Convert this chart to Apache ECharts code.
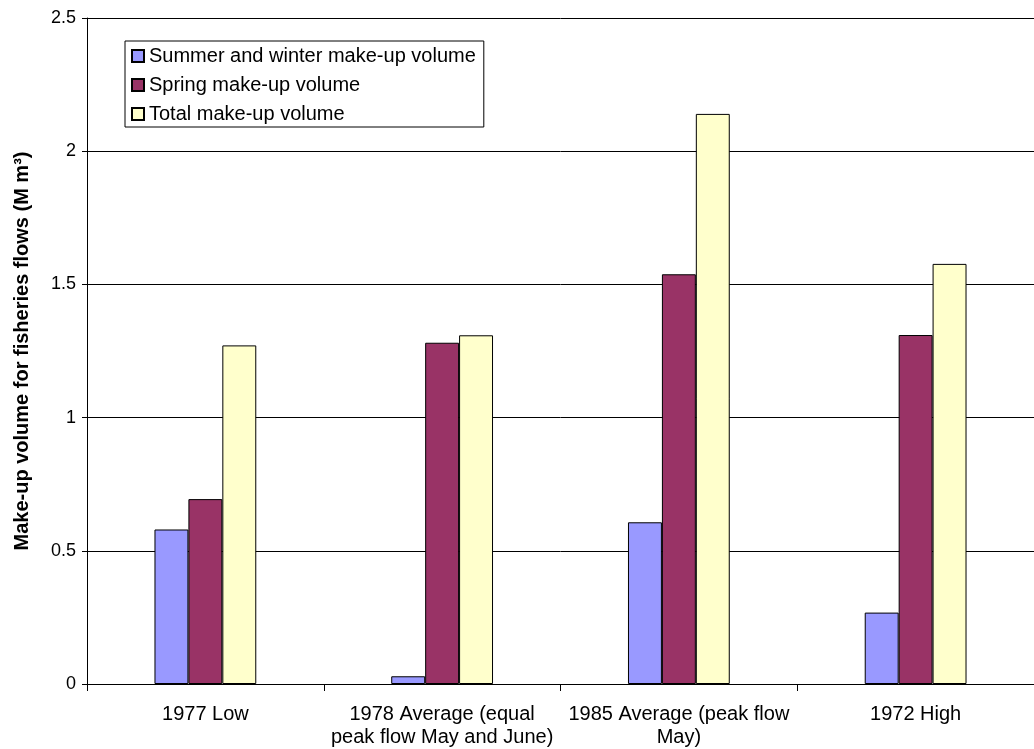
<!DOCTYPE html>
<html>
<head>
<meta charset="utf-8">
<script src="https://cdn.jsdelivr.net/npm/echarts@6/dist/echarts.min.js"></script>
<style>
html,body{margin:0;padding:0;background:#fff;}
#c{width:1034px;height:749px;}
</style>
</head>
<body>
<div id="c"></div>
<script>
var categories = ['1977 Low', '1978 Average (equal\npeak flow May and June)', '1985 Average (peak flow\nMay)', '1972 High'];
var summerWinter = [0.58, 0.029, 0.607, 0.268];
var spring = [0.694, 1.281, 1.538, 1.31];
var total = [1.271, 1.309, 2.14, 1.577];
var seriesNames = ['Summer and winter make-up volume', 'Spring make-up volume', 'Total make-up volume'];
var yTicks = { min: 0, max: 2.5, interval: 0.5 };

var FONT = 'Liberation Sans, Arial, sans-serif';
var chart = echarts.init(document.getElementById('c'), null, { renderer: 'canvas' });
function bar(name, data, color) {
  return {
    name: name, type: 'bar', data: data,
    barGap: '0%', barCategoryGap: '57%',
    itemStyle: { color: color, borderColor: '#000', borderWidth: 1 },
    animation: false
  };
}
chart.setOption({
  animation: false,
  backgroundColor: '#fff',
  textStyle: { fontFamily: FONT },
  grid: { left: 87, top: 18, width: 957, height: 666, containLabel: false },
  legend: {
    orient: 'vertical', left: 125, top: 41,
    padding: [5, 8, 3, 6], itemGap: 9,
    itemWidth: 12, itemHeight: 12, icon: 'rect',
    backgroundColor: '#fff', borderColor: '#000', borderWidth: 1,
    textStyle: { fontFamily: FONT, fontSize: 20, color: '#000', lineHeight: 20 },
    data: seriesNames
  },
  xAxis: {
    type: 'category', data: categories,
    axisLine: { lineStyle: { color: '#000', width: 1 } },
    axisTick: { show: true, length: 7, alignWithLabel: false, lineStyle: { color: '#000' } },
    axisLabel: { fontFamily: FONT, fontSize: 20, color: '#000', margin: 19, lineHeight: 23, interval: 0 }
  },
  yAxis: {
    type: 'value', min: yTicks.min, max: yTicks.max, interval: yTicks.interval,
    name: 'Make-up volume for fisheries flows (M m³)',
    nameLocation: 'middle', nameRotate: 90, nameGap: 55,
    nameTextStyle: { fontFamily: FONT, fontSize: 20, fontWeight: 'bold', color: '#000' },
    axisLine: { show: true, lineStyle: { color: '#000', width: 1 } },
    axisTick: { show: true, length: 5, lineStyle: { color: '#000' } },
    axisLabel: { fontFamily: FONT, fontSize: 18, color: '#000', margin: 11 },
    splitLine: { show: true, lineStyle: { color: '#000', width: 1 } }
  },
  series: [
    bar(seriesNames[0], summerWinter, '#9999FF'),
    bar(seriesNames[1], spring, '#993366'),
    bar(seriesNames[2], total, '#FFFFCC')
  ]
});
</script>
</body>
</html>
